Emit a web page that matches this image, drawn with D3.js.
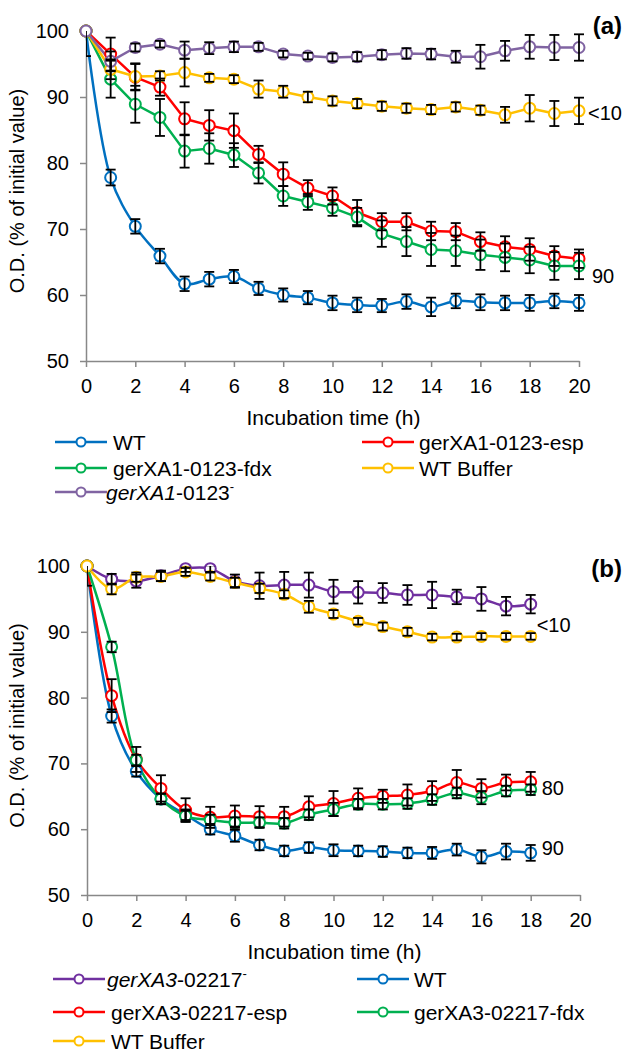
<!DOCTYPE html>
<html><head><meta charset="utf-8">
<script src="https://cdn.jsdelivr.net/npm/d3@7"></script>
<style>
body{margin:0;background:#fff}
svg text{font-family:"Liberation Sans",Arial,Helvetica,sans-serif;fill:#000}
</style>
</head><body>
<svg id="c" width="623" height="1056"></svg>
<script>
// ---------- DATA ----------
const xTicks = [0,2,4,6,8,10,12,14,16,18,20];
const yTicks = [50,60,70,80,90,100];

// Panel (a)
const timesA = [0,1,2,3,4,5,6,7,8,9,10,11,12,13,14,15,16,17,18,19,20];
const A_WT      = [100,77.8,70.4,65.9,61.7,62.4,62.8,61.0,60.0,59.6,58.8,58.5,58.4,59.0,58.2,59.1,58.9,58.8,58.8,59.1,58.8];
const A_WT_err  = [3.8,1.2,1.1,1.1,1.1,1.1,1.0,1.0,1.0,1.0,1.1,1.1,1.0,1.1,1.4,1.1,1.2,1.1,1.2,1.1,1.2];
const A_esp     = [100,96.5,93.0,91.5,86.7,85.7,84.9,81.3,78.3,76.2,75.0,72.5,71.1,71.1,69.7,69.6,68.1,67.3,66.9,65.9,65.5];
const A_esp_err = [0,2.5,2.0,1.3,2.5,2.3,2.6,1.3,1.8,1.2,1.3,1.9,1.3,1.3,1.4,1.3,1.4,1.6,1.7,1.5,1.4];
const A_fdx     = [100,92.7,88.9,86.9,81.8,82.2,81.2,78.5,75.0,74.1,73.2,71.8,69.3,68.1,66.9,66.7,66.1,65.7,65.3,64.4,64.4];
const A_fdx_err = [0,2.8,2.8,2.8,2.5,2.3,1.8,1.6,1.5,1.2,1.2,1.4,2.0,2.2,2.5,2.3,2.3,2.1,2.0,2.1,2.0];
const A_buf     = [100,94.2,93.1,93.2,93.7,92.9,92.7,91.2,90.8,90.0,89.4,89.0,88.6,88.3,88.1,88.5,88.0,87.3,88.3,87.5,87.9];
const A_buf_err = [0,1.5,2.0,0.7,2.1,0.6,0.6,1.3,0.9,0.8,0.7,0.7,0.7,0.7,0.7,0.7,0.7,1.2,2.0,1.9,2.0];
const A_mut     = [100,95.4,97.5,98.0,97.1,97.4,97.6,97.6,96.5,96.2,96.0,96.1,96.4,96.6,96.5,96.1,96.1,97.0,97.6,97.5,97.5];
const A_mut_err = [0,1.5,0.6,0.5,1.3,0.9,0.8,0.6,0.5,0.5,0.6,0.7,0.7,0.8,0.8,0.9,1.8,1.5,1.8,1.9,2.0];

// Panel (b)
const timesB = [0,1,2,3,4,5,6,7,8,9,10,11,12,13,14,15,16,17,18];
const B_mut     = [100,98.0,97.7,98.5,99.6,99.6,97.7,97.0,97.1,97.1,96.1,96.0,95.9,95.6,95.6,95.3,95.0,93.9,94.2];
const B_mut_err = [0,0.8,1.0,0.8,0.5,0.5,1.0,2.0,2.0,1.9,1.8,1.7,1.5,1.5,2.0,1.1,1.8,1.4,1.4];
const B_WT      = [100,77.2,68.8,64.6,62.2,60.0,59.0,57.6,56.7,57.2,56.8,56.7,56.6,56.4,56.4,56.9,55.8,56.6,56.4];
const B_WT_err  = [3.0,1.0,0.8,0.8,0.8,0.8,0.9,0.8,0.8,0.8,0.9,0.8,0.8,0.8,0.9,0.9,1.0,1.2,1.2];
const B_esp     = [100,80.3,70.6,66.2,62.9,61.8,62.0,61.9,61.9,63.4,63.9,64.7,65.0,65.2,65.8,67.1,66.2,67.1,67.2];
const B_esp_err = [0,2.5,1.9,2.0,1.8,1.6,1.6,1.6,1.5,1.6,1.9,1.5,1.0,1.6,1.5,1.9,1.4,1.2,1.5];
const B_fdx     = [100,87.7,70.5,64.6,62.0,61.4,61.0,61.0,60.9,62.2,63.0,63.8,63.8,63.9,64.5,65.5,64.8,65.8,66.0];
const B_fdx_err = [0,0.8,0.8,0.8,0.8,0.8,0.8,0.8,0.8,0.8,1.0,0.8,0.8,0.8,0.8,0.8,1.0,0.8,0.8];
const B_buf     = [100,96.5,98.3,98.4,99.1,98.4,97.5,96.6,95.7,93.8,92.7,91.6,90.8,90.0,89.2,89.2,89.3,89.3,89.3];
const B_buf_err = [0,0.8,0.7,0.7,0.6,0.6,0.7,0.7,0.6,0.9,0.6,0.5,0.6,0.6,0.5,0.5,0.5,0.5,0.5];

// ---------- DRAW ----------
const svg = d3.select('#c');
const FONT = '"Liberation Sans",Arial,Helvetica,sans-serif';

function panel(cfg){
  const g = svg.append('g');
  const x = d3.scaleLinear().domain([0,20]).range([cfg.left,cfg.right]);
  const y = d3.scaleLinear().domain([50,100]).range([cfg.bottom,cfg.top]);

  const ax = g.append('g').attr('transform',`translate(0,${cfg.bottom})`)
    .call(d3.axisBottom(x).tickValues(xTicks).tickSize(6).tickSizeOuter(0).tickPadding(12));
  const ay = g.append('g').attr('transform',`translate(${cfg.left},0)`)
    .call(d3.axisLeft(y).tickValues(yTicks).tickSize(6).tickSizeOuter(0).tickPadding(11));
  [ax,ay].forEach(a=>{
    a.attr('font-family',FONT).attr('font-size',20);
    a.selectAll('path,line').attr('stroke','#888').attr('stroke-width',1.5);
    a.selectAll('text').attr('fill','#000');
  });

  // titles
  g.append('text').attr('x',(cfg.left+cfg.right)/2+1).attr('y',cfg.bottom+64)
    .attr('text-anchor','middle').attr('font-size',21).text('Incubation time (h)');
  g.append('text').attr('transform',`translate(${24},${(cfg.top+cfg.bottom)/2-5}) rotate(-90)`)
    .attr('text-anchor','middle').attr('font-size',20).text('O.D. (% of initial value)');

  const clipId = 'clip'+cfg.id;
  svg.append('defs').append('clipPath').attr('id',clipId).append('rect')
    .attr('x',cfg.left).attr('y',cfg.top).attr('width',623-cfg.left).attr('height',cfg.bottom-cfg.top);

  const gl = g.append('g');
  cfg.series.forEach(s=>{
    const pts = cfg.times.map((t,i)=>({t, v:s.values[i], e:s.err[i]}));
    const line = d3.line().x(d=>x(d.t)).y(d=>y(d.v))
      .curve(s.smooth ? d3.curveCatmullRom.alpha(0.5) : d3.curveLinear);
    gl.append('path').attr('d',line(pts)).attr('fill','none')
      .attr('stroke',s.color).attr('stroke-width',2.5).attr('stroke-linejoin','round');
  });
  cfg.series.forEach(s=>{
    const pts = cfg.times.map((t,i)=>({t, v:s.values[i]}));
    gl.selectAll(null).data(pts).enter().append('circle')
      .attr('cx',d=>x(d.t)).attr('cy',d=>y(d.v)).attr('r',5.5)
      .attr('fill','#fff').attr('stroke',s.color).attr('stroke-width',2);
  });
  const ge = g.append('g').attr('clip-path',`url(#${clipId})`)
    .attr('stroke','#000').attr('stroke-width',1.8);
  cfg.series.forEach(s=>{
    const pts = cfg.times.map((t,i)=>({t, v:s.values[i], e:s.err[i]})).filter(d=>d.e>0);
    pts.forEach(d=>{
      const cx = x(d.t), y1 = y(d.v+d.e), y2 = y(d.v-d.e);
      ge.append('line').attr('x1',cx).attr('x2',cx).attr('y1',y1).attr('y2',y2);
      ge.append('line').attr('x1',cx-5).attr('x2',cx+5).attr('y1',y1).attr('y2',y1);
      ge.append('line').attr('x1',cx-5).attr('x2',cx+5).attr('y1',y2).attr('y2',y2);
    });
  });

  // annotations
  cfg.notes.forEach(n=>{
    g.append('text').attr('x',x(n.t)+n.dx).attr('y',y(n.v)+7)
      .attr('font-size',20).text(n.text);
  });
  g.append('text').attr('x',622).attr('y',cfg.labelY).attr('text-anchor','end')
    .attr('font-size',24).attr('font-weight','bold').text(cfg.label);

  // legend
  cfg.legend.forEach(it=>{
    const lg = g.append('g');
    lg.append('line').attr('x1',it.lx).attr('x2',it.lx+52).attr('y1',it.y).attr('y2',it.y)
      .attr('stroke',it.color).attr('stroke-width',2.5);
    lg.append('circle').attr('cx',it.lx+26).attr('cy',it.y).attr('r',4.5)
      .attr('fill','#fff').attr('stroke',it.color).attr('stroke-width',2);
    const tx = lg.append('text').attr('x',it.tx).attr('y',it.y+7.5).attr('font-size',21);
    it.parts.forEach(p=>{
      const ts = tx.append('tspan').text(p.t);
      if(p.i) ts.attr('font-style','italic');
      if(p.sup) ts.attr('font-size',13).attr('dy',-9);
    });
  });
}

const C = {blue:'#0070C0', red:'#FF0000', green:'#00B050', yellow:'#FFC000', purpleA:'#8064A2', purpleB:'#7030A0'};

panel({
  id:'A', left:86, right:579, top:31, bottom:361, times:timesA, label:'(a)', labelY:34,
  series:[
    {values:A_WT, err:A_WT_err, color:C.blue, smooth:true},
    {values:A_esp, err:A_esp_err, color:C.red, smooth:false},
    {values:A_fdx, err:A_fdx_err, color:C.green, smooth:false},
    {values:A_buf, err:A_buf_err, color:C.yellow, smooth:false},
    {values:A_mut, err:A_mut_err, color:C.purpleA, smooth:false}
  ],
  notes:[{t:20,v:87.6,dx:9,text:'<10'},{t:20,v:62.9,dx:13,text:'90'}],
  legend:[
    {lx:55, tx:113, y:442, color:C.blue, parts:[{t:'WT'}]},
    {lx:362, tx:419, y:442, color:C.red, parts:[{t:'gerXA1-0123-esp'}]},
    {lx:55, tx:113, y:468, color:C.green, parts:[{t:'gerXA1-0123-fdx'}]},
    {lx:362, tx:419, y:468, color:C.yellow, parts:[{t:'WT Buffer'}]},
    {lx:55, tx:106, y:492, color:C.purpleA, parts:[{t:'gerXA1',i:true},{t:'-0123'},{t:'-',sup:true}]}
  ]
});

panel({
  id:'B', left:87, right:580, top:566, bottom:895, times:timesB, label:'(b)', labelY:577,
  series:[
    {values:B_mut, err:B_mut_err, color:C.purpleB, smooth:true},
    {values:B_WT, err:B_WT_err, color:C.blue, smooth:true},
    {values:B_esp, err:B_esp_err, color:C.red, smooth:true},
    {values:B_fdx, err:B_fdx_err, color:C.green, smooth:true},
    {values:B_buf, err:B_buf_err, color:C.yellow, smooth:true}
  ],
  notes:[{t:18,v:91.0,dx:6,text:'<10'},{t:18,v:66.3,dx:11,text:'80'},{t:18,v:57.2,dx:11,text:'90'}],
  legend:[
    {lx:53, tx:107, y:979, color:C.purpleB, parts:[{t:'gerXA3',i:true},{t:'-02217'},{t:'-',sup:true}]},
    {lx:357, tx:414, y:979, color:C.blue, parts:[{t:'WT'}]},
    {lx:53, tx:111, y:1012, color:C.red, parts:[{t:'gerXA3-02217-esp'}]},
    {lx:357, tx:414, y:1012, color:C.green, parts:[{t:'gerXA3-02217-fdx'}]},
    {lx:53, tx:111, y:1041, color:C.yellow, parts:[{t:'WT Buffer'}]}
  ]
});
</script>
</body></html>
